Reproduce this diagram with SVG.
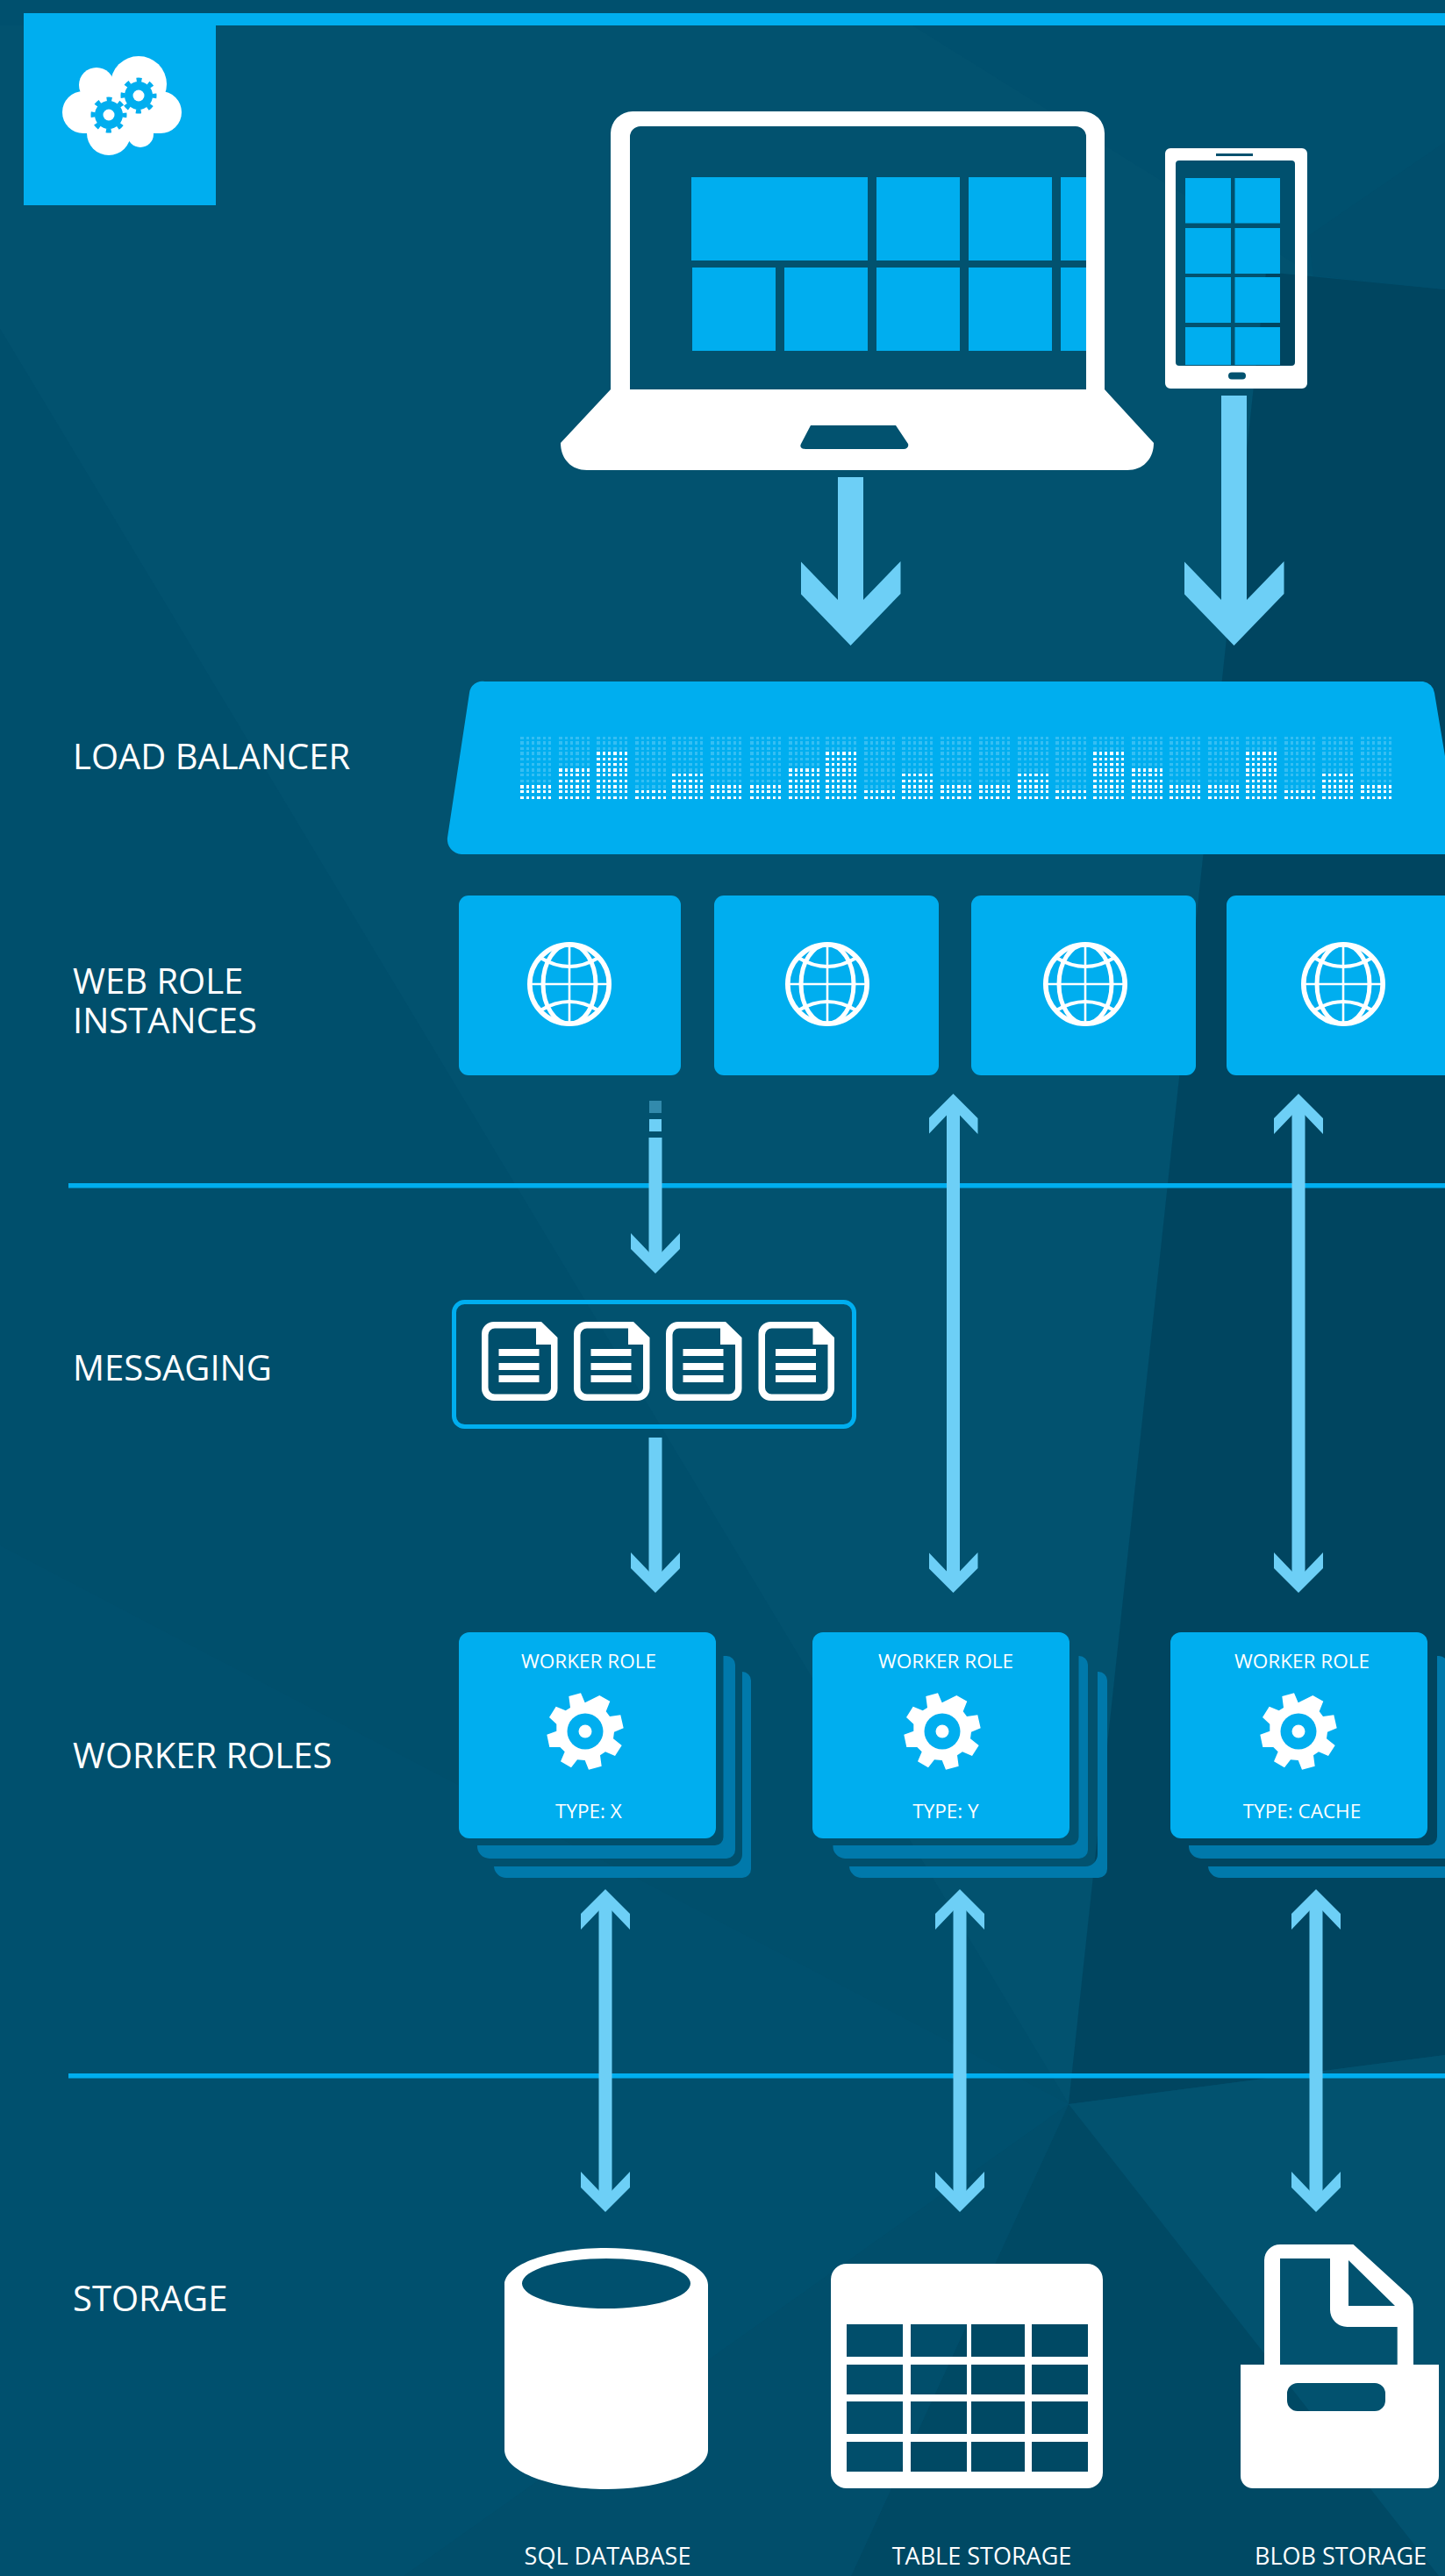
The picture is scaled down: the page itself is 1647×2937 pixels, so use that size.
<svg xmlns="http://www.w3.org/2000/svg" xmlns:xlink="http://www.w3.org/1999/xlink" width="1647" height="2937" viewBox="0 0 1647 2937">
<style>
text{font-family:"Open Sans","Noto Sans","Liberation Sans",sans-serif;fill:#fff}
.lbl{font-size:40px}
.cap{font-size:22.5px;text-anchor:middle}
.sto{font-size:27px;text-anchor:middle}
.blue{fill:#00aeef}
.wht{fill:#fff}
.lyr{fill:#0079ab}
.box{fill:#00aeef}
.thin{stroke-width:3;fill:none;stroke-dasharray:4 3 3 3 3 3 4 3 3 3 3 100}
.thick{stroke-width:4;fill:none;stroke-dasharray:4 3 3 3 3 3 4 3 3 3 3 100}
.faint{stroke:#35bef3}
.lit{stroke:#fff}
.a-big{stroke:#6dcff6;stroke-width:29;fill:none;marker-end:url(#hb)}
.a-one{stroke:#6dcff6;stroke-width:15;fill:none;marker-end:url(#hs)}
.a-two{stroke:#6dcff6;stroke-width:15;fill:none;marker-end:url(#hs);marker-start:url(#hs)}
.hr{fill:#00aeef}
.gl{fill:none;stroke:#fff}
</style>
<defs>
<marker id="hb" markerUnits="userSpaceOnUse" viewBox="0 0 96 114" refX="46" refY="57" markerWidth="96" markerHeight="114" orient="auto-start-reverse"><path fill="#6dcff6" d="M0 0L44 42.5V71.5L0 114H37L96 57L37 0Z"/></marker>
<marker id="hs" markerUnits="userSpaceOnUse" viewBox="0 0 46 56" refX="22" refY="28" markerWidth="46" markerHeight="56" orient="auto-start-reverse"><path fill="#6dcff6" d="M0 0L22 21V35L0 56H18L46 28L18 0Z"/></marker>
<g id="dots">
<path class="thin" d="M0 1.5H36M0 13.5H36M0 25.5H36M0 31.5H36M0 43.5H36M0 50.5H36M0 62.5H36M0 69.5H36"/>
<path class="thick" d="M0 7H36M0 19H36M0 38H36M0 57H36"/>
</g>
<clipPath id="c2"><rect x="0" y="60.5" width="40" height="12"/></clipPath>
<clipPath id="c3"><rect x="0" y="54" width="40" height="20"/></clipPath>
<clipPath id="c5"><rect x="0" y="41" width="40" height="33"/></clipPath>
<clipPath id="c6"><rect x="0" y="35" width="40" height="39"/></clipPath>
<clipPath id="c9"><rect x="0" y="16" width="40" height="58"/></clipPath>
<g id="l2"><use xlink:href="#dots" class="faint"/><use xlink:href="#dots" class="lit" clip-path="url(#c2)"/></g>
<g id="l3"><use xlink:href="#dots" class="faint"/><use xlink:href="#dots" class="lit" clip-path="url(#c3)"/></g>
<g id="l5"><use xlink:href="#dots" class="faint"/><use xlink:href="#dots" class="lit" clip-path="url(#c5)"/></g>
<g id="l6"><use xlink:href="#dots" class="faint"/><use xlink:href="#dots" class="lit" clip-path="url(#c6)"/></g>
<g id="l9"><use xlink:href="#dots" class="faint"/><use xlink:href="#dots" class="lit" clip-path="url(#c9)"/></g>
<g id="globe">
<circle class="gl" r="45.2" stroke-width="5.6"/>
<ellipse class="gl" rx="30" ry="45" stroke-width="5"/>
<path class="gl" stroke-width="2.6" d="M0 -45V45M-45 0H45"/>
<path class="gl" stroke-width="4" d="M-33 -30Q0 -10 33 -30M-33 30Q0 10 33 30"/>
</g>
<path id="doc" class="wht" fill-rule="evenodd" d="M14 0H68L86.500 18V76A14 14 0 0 1 72.500 90H14A14 14 0 0 1 0 76V14A14 14 0 0 1 14 0ZM15 7.500A7.500 7.500 0 0 0 7.500 15V75A7.500 7.500 0 0 0 15 82.500H72A7 7 0 0 0 79 75.500V26H62V7.500ZM19.500 31V39H65.500V31ZM19.500 47V55H65.500V47ZM19.500 61V69H65.500V61Z"/>
<g id="gear"><path class="wht" d="M-18.700 -40L-5 -43.700L-.3 -32.700L16.300 -41 28.300 -34.300 23.700 -22.700 28 -17 40.300 -18.700 43.700 -3.700 33 .7 32 8.300 41.700 16 34 28 23 23.300 17 27.300 18.700 39.700 4 43.700 -.3 33 -9 32.300 -16 41.300 -28 34.300 -23.300 23.300 -28.700 18 -40.700 18 -43.700 3.700 -32.700 -.3 -32.700 -8.300 -41 -16 -33.300 -28.300 -22.300 -23.700 -17 -27Z"/><circle class="blue" r="20.500"/><circle class="wht" r="7.500"/></g>
<g id="cog"><circle class="blue" r="16"/><circle r="18" fill="none" stroke="#00aeef" stroke-width="5" stroke-dasharray="6 8.137" stroke-dashoffset="3"/><circle class="wht" r="6.500"/></g>
</defs>

<g id="background">
<rect width="1647" height="2937" fill="#00506e"/>
<path fill="#02526f" d="M0 375L1218 2399L1443 310L1491 269L1647 162V0H930L1323 223L0 0Z" opacity="0"/>
<path fill="#02526f" d="M0 375L1218 2399L1437 368L1497 314L1040 29L0 29Z"/>
<path fill="#004f6c" d="M0 375V1762L1218 2399Z"/>
<path fill="#004560" d="M1443 310L1218 2399L1647 2343V330Z"/>
<path fill="#014e6c" d="M1491 269L1647 162V330L1497 314Z"/>
<path fill="#004964" d="M1218 2399L970 2937H1647L1647 2937Z"/>
<path fill="#014e6b" d="M1218 2399L460 2937H970Z"/>
<path fill="#02526f" d="M1218 2399L1647 2343V2937H1640Z"/>
</g>

<g id="header">
<path class="blue" d="M27 15H1647V29H246V234H27Z"/>
<g id="logo">
<g class="wht"><circle cx="158" cy="96" r="32"/><circle cx="110" cy="97" r="20"/><circle cx="95" cy="128" r="24"/><circle cx="183" cy="128" r="24"/><circle cx="124" cy="152" r="25"/><circle cx="160" cy="153" r="15"/><rect x="95" y="100" width="88" height="52"/></g>
<use xlink:href="#cog" x="124" y="131"/>
<use xlink:href="#cog" x="158" y="109"/>
</g>
</g>

<g id="laptop">
<path class="wht" fill-rule="evenodd" d="M696 152A25 25 0 0 1 721 127H1234A25 25 0 0 1 1259 152V444L1315 505C1315 522 1304 536 1285 536H669C650 536 639 522 639 505L696 444ZM730 144A12 12 0 0 0 718 156V444H1238V156A12 12 0 0 0 1226 144ZM924 485L913 506C911 510 914 512 918 512H1030C1034 512 1036 509 1035 506L1021 485Z"/>
<path class="blue" d="M788 202H989V297H788ZM999 202H1094V297H999ZM1104 202H1199V297H1104ZM1209 202H1238V297H1209ZM789 305H884V400H789ZM894 305H989V400H894ZM999 305H1094V400H999ZM1104 305H1199V400H1104ZM1209 305H1238V400H1209Z"/>
</g>

<g id="phone">
<path class="wht" fill-rule="evenodd" d="M1334 169H1484A6 6 0 0 1 1490 175V437A6 6 0 0 1 1484 443H1334A6 6 0 0 1 1328 437V175A6 6 0 0 1 1334 169ZM1386 175V178H1428V175ZM1344 183A4 4 0 0 0 1340 187V413A4 4 0 0 0 1344 417H1472A4 4 0 0 0 1476 413V187A4 4 0 0 0 1472 183ZM1404 424.500A4 4 0 0 0 1404 432.500H1416A4 4 0 0 0 1416 424.500Z"/>
<path class="blue" d="M1351 203H1403V254.500H1351ZM1407.500 203H1459V254.500H1407.500ZM1351 260H1403V312H1351ZM1407.500 260H1459V312H1407.500ZM1351 316H1403V368H1351ZM1407.500 316H1459V368H1407.500ZM1351 373H1403V416H1351ZM1407.500 373H1459V416H1407.500Z"/>
</g>

<g id="load-balancer">
<path class="box" d="M553 777H1622A15 15 0 0 1 1635 790L1647 862V974H526A17 17 0 0 1 510 955L535 790A15 15 0 0 1 553 777Z"/>
<use xlink:href="#l3" x="593" y="840"/><use xlink:href="#l6" x="637" y="840"/><use xlink:href="#l9" x="680" y="840"/><use xlink:href="#l2" x="724" y="840"/><use xlink:href="#l5" x="766" y="840"/><use xlink:href="#l3" x="810" y="840"/><use xlink:href="#l3" x="855" y="840"/><use xlink:href="#l6" x="899" y="840"/><use xlink:href="#l9" x="941" y="840"/><use xlink:href="#l2" x="985" y="840"/><use xlink:href="#l5" x="1028" y="840"/><use xlink:href="#l3" x="1072" y="840"/><use xlink:href="#l3" x="1116" y="840"/><use xlink:href="#l5" x="1160" y="840"/><use xlink:href="#l2" x="1203" y="840"/><use xlink:href="#l9" x="1246" y="840"/><use xlink:href="#l6" x="1290" y="840"/><use xlink:href="#l3" x="1333" y="840"/><use xlink:href="#l3" x="1377" y="840"/><use xlink:href="#l9" x="1420" y="840"/><use xlink:href="#l2" x="1464" y="840"/><use xlink:href="#l5" x="1507" y="840"/><use xlink:href="#l3" x="1551" y="840"/>
</g>

<g id="web-role-1"><rect class="box" x="523" y="1021" width="253" height="205" rx="11"/><use xlink:href="#globe" x="649" y="1122"/></g>
<g id="web-role-2"><rect class="box" x="814" y="1021" width="256" height="205" rx="11"/><use xlink:href="#globe" x="943" y="1122"/></g>
<g id="web-role-3"><rect class="box" x="1107" y="1021" width="256" height="205" rx="11"/><use xlink:href="#globe" x="1237" y="1122"/></g>
<g id="web-role-4"><rect class="box" x="1398" y="1021" width="260" height="205" rx="11"/><use xlink:href="#globe" x="1531" y="1122"/></g>

<g id="dividers"><rect class="hr" x="78" y="1349" width="1569" height="5.500"/><rect class="hr" x="78" y="2364" width="1569" height="5.500"/></g>

<g id="messaging">
<rect x="517.500" y="1484.500" width="456" height="142" rx="12" fill="none" stroke="#00aeef" stroke-width="5"/>
<use xlink:href="#doc" x="549" y="1507"/><use xlink:href="#doc" x="654" y="1507"/><use xlink:href="#doc" x="759" y="1507"/><use xlink:href="#doc" x="864.500" y="1507"/>
</g>

<g id="worker-x">
<path class="lyr" d="M824.500 1888H828A10 10 0 0 1 838 1898V2109A10 10 0 0 1 828 2119H558A14 14 0 0 1 544 2104H815A9.500 9.500 0 0 0 824.500 2094.500Z"/>
<path class="lyr" d="M846 1906H846A10 10 0 0 1 856 1916V2131A10 10 0 0 1 846 2141H577A14 14 0 0 1 563 2128H832A14 14 0 0 0 846 2114Z"/>
<rect class="box" x="523" y="1861" width="293" height="235" rx="12"/>
<text class="cap" x="671" y="1902">WORKER ROLE</text><use xlink:href="#gear" x="667" y="1974"/><text class="cap" x="671" y="2073">TYPE: X</text>
</g>
<g id="worker-y">
<path class="lyr" d="M1229.500 1888H1230A10 10 0 0 1 1240 1898V2109A10 10 0 0 1 1230 2119H963A14 14 0 0 1 949.500 2104H1220A9.500 9.500 0 0 0 1229.500 2094.500Z"/>
<path class="lyr" d="M1251 1906H1252A10 10 0 0 1 1262 1916V2131A10 10 0 0 1 1252 2141H982A14 14 0 0 1 968 2128H1237A14 14 0 0 0 1251 2114Z"/>
<rect class="box" x="926" y="1861" width="293" height="235" rx="12"/>
<text class="cap" x="1078" y="1902">WORKER ROLE</text><use xlink:href="#gear" x="1074" y="1974"/><text class="cap" x="1078" y="2073">TYPE: Y</text>
</g>
<g id="worker-cache">
<path class="lyr" d="M1638 1888H1640A10 10 0 0 1 1650 1898V2119H1369A14 14 0 0 1 1355 2104H1628A10 10 0 0 0 1638 2094Z"/>
<path class="lyr" d="M1650 2128V2141H1391A14 14 0 0 1 1377 2128Z"/>
<rect class="box" x="1334" y="1861" width="293" height="235" rx="12"/>
<text class="cap" x="1484" y="1902">WORKER ROLE</text><use xlink:href="#gear" x="1480" y="1974"/><text class="cap" x="1484" y="2073">TYPE: CACHE</text>
</g>

<g id="sql-database">
<path class="wht" fill-rule="evenodd" d="M575 2605C575 2582 627 2563 691 2563S807 2582 807 2605V2793C807 2818 755 2838 691 2838S575 2818 575 2793ZM595 2603.500A96 28.500 0 0 0 787 2603.500A96 28.500 0 0 0 595 2603.500Z"/>
</g>
<g id="table-storage">
<path class="wht" fill-rule="evenodd" d="M965 2581H1239A18 18 0 0 1 1257 2599V2819A18 18 0 0 1 1239 2837H965A18 18 0 0 1 947 2819V2599A18 18 0 0 1 965 2581ZM965 2650V2687H1029V2650ZM1038 2650V2687H1102V2650ZM1107 2650V2687H1168V2650ZM1176 2650V2687H1240V2650ZM965 2696V2730H1029V2696ZM1038 2696V2730H1102V2696ZM1107 2696V2730H1168V2696ZM1176 2696V2730H1240V2696ZM965 2738V2775H1029V2738ZM1038 2738V2775H1102V2738ZM1107 2738V2775H1168V2738ZM1176 2738V2775H1240V2738ZM965 2784V2818H1029V2784ZM1038 2784V2818H1102V2784ZM1107 2784V2818H1168V2784ZM1176 2784V2818H1240V2784Z"/>
</g>
<g id="blob-storage">
<path class="wht" fill-rule="evenodd" d="M1441 2696V2577A18 18 0 0 1 1459 2559H1542.500L1606 2617Q1611 2622 1611 2632V2696H1640V2823A14 14 0 0 1 1626 2837H1428A14 14 0 0 1 1414 2823V2696ZM1459 2575V2696H1592.700V2653H1535.500A19.500 19.500 0 0 1 1516 2633.500V2575ZM1537 2577V2629H1590ZM1479 2717A12 12 0 0 0 1467 2729V2737A12 12 0 0 0 1479 2749H1567A12 12 0 0 0 1579 2737V2729A12 12 0 0 0 1567 2717Z"/>
</g>

<g id="connectors">
<path class="a-big" d="M969.500 544V686"/>
<path class="a-big" d="M1406.500 451V686"/>
<rect x="740" y="1255" width="14" height="14" fill="#6dcff6" opacity=".45"/>
<rect x="740" y="1276" width="14" height="14" fill="#6dcff6"/>
<path class="a-one" d="M747 1297V1428"/>
<path class="a-one" d="M747 1639V1792"/>
<path class="a-two" d="M1086.500 1271V1792"/>
<path class="a-two" d="M1480 1271V1792"/>
<path class="a-two" d="M690 2178V2498"/>
<path class="a-two" d="M1094 2178V2498"/>
<path class="a-two" d="M1500 2178V2498"/>
</g>

<g id="labels">
<text class="lbl" x="83" y="877">LOAD BALANCER</text>
<text class="lbl" x="83" y="1133">WEB ROLE</text>
<text class="lbl" x="83" y="1178">INSTANCES</text>
<text class="lbl" x="83" y="1574">MESSAGING</text>
<text class="lbl" x="83" y="2016">WORKER ROLES</text>
<text class="lbl" x="83" y="2635">STORAGE</text>
<text class="sto" x="692.500" y="2924">SQL DATABASE</text>
<text class="sto" x="1119" y="2924">TABLE STORAGE</text>
<text class="sto" x="1528" y="2924">BLOB STORAGE</text>
</g>
</svg>
